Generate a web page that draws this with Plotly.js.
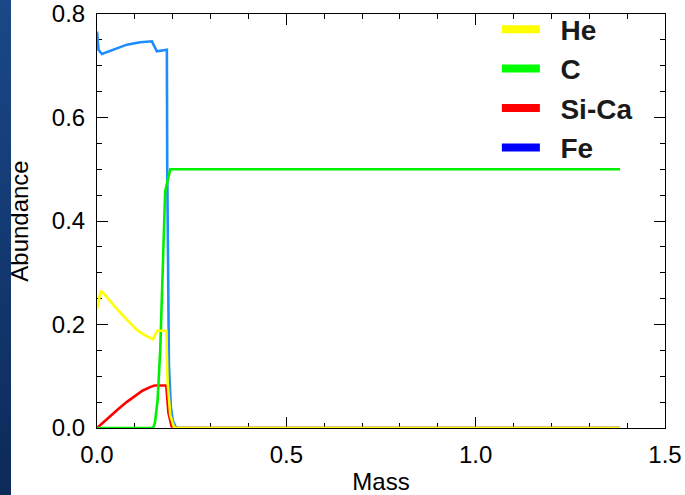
<!DOCTYPE html>
<html>
<head>
<meta charset="utf-8">
<script src="https://cdn.plot.ly/plotly-3.0.1.min.js"></script>
<style>
html,body{margin:0;padding:0;background:#fff;}
#wrap{position:relative;width:685px;height:495px;}
#chart{position:absolute;left:0;top:0;width:685px;height:495px;}
#strip{position:absolute;left:0;top:0;width:11px;height:495px;background:linear-gradient(#1b4888,#0c2a5a);z-index:5;}
</style>
</head>
<body>
<div id="wrap"><div id="chart"></div><div id="strip"></div></div>
<script>
// Data
const heMass = [0, 0.010, 0.020, 0.035, 0.050, 0.070, 0.090, 0.106, 0.125, 0.148, 0.159, 0.183, 0.1865, 0.1935, 0.203, 0.210, 1.381];
const heAbund = [0.230, 0.265, 0.258, 0.244, 0.232, 0.216, 0.200, 0.189, 0.180, 0.1715, 0.188, 0.188, 0.088, 0.025, 0.002, 0, 0];

const cMass = [0, 0.148, 0.153, 0.160, 0.167, 0.174, 0.180, 0.1935, 1.381];
const cAbund = [0, 0, 0.010, 0.054, 0.151, 0.300, 0.457, 0.500, 0.500];

const siMass = [0, 0.020, 0.040, 0.060, 0.080, 0.100, 0.120, 0.140, 0.152, 0.183, 0.1885, 0.197, 0.205, 1.381];
const siAbund = [0, 0.013, 0.027, 0.039, 0.051, 0.062, 0.072, 0.079, 0.082, 0.082, 0.030, 0.003, 0, 0];

const feMass = [0, 0.004, 0.013, 0.026, 0.053, 0.079, 0.114, 0.145, 0.158, 0.180, 0.1845, 0.1855, 0.187, 0.190, 0.195, 0.200, 0.207, 0.212, 1.381];
const feAbund = [0.766, 0.731, 0.7226, 0.726, 0.7344, 0.7408, 0.7453, 0.7472, 0.728, 0.731, 0.731, 0.50, 0.30, 0.12, 0.04, 0.015, 0.003, 0, 0];

const seriesNames = ['He', 'C', 'Si-Ca', 'Fe'];
const lineColors = ['#ffff00', '#00f000', '#ff0000', '#1e8cff'];
const legendColors = ['#ffff00', '#00ff00', '#ff0000', '#0000ff'];

const xTicks = [0, 0.5, 1.0, 1.5];
const xTickText = ['0.0', '0.5', '1.0', '1.5'];
const yTicks = [0, 0.2, 0.4, 0.6, 0.8];
const yTickText = ['0.0', '0.2', '0.4', '0.6', '0.8'];

const seriesX = [heMass, cMass, siMass, feMass];
const seriesY = [heAbund, cAbund, siAbund, feAbund];

const traces = [];
// draw order: Fe, Si-Ca, C, He (He on top)
for (let i = 3; i >= 0; i--) {
  traces.push({
    x: seriesX[i], y: seriesY[i], type: 'scatter', mode: 'lines',
    line: {color: lineColors[i], width: 2.6}, showlegend: false, name: seriesNames[i],
    hoverinfo: 'skip'
  });
}
// legend entries
for (let i = 0; i < 4; i++) {
  traces.push({
    x: [null], y: [null], type: 'scatter', mode: 'lines',
    line: {color: legendColors[i], width: 8}, name: '\u00a0\u00a0' + seriesNames[i], showlegend: true,
    legendgroup: 'g' + i
  });
}

const tickFont = {family: 'Liberation Sans, Arial, sans-serif', size: 24, color: '#000'};

const layout = {
  width: 685, height: 495,
  margin: {l: 97, r: 20, t: 14, b: 67, autoexpand: false},
  paper_bgcolor: '#fff', plot_bgcolor: '#fff',
  showlegend: true,
  legend: {
    x: 0.704, y: 1.023, xanchor: 'left', yanchor: 'top',
    bgcolor: 'rgba(0,0,0,0)', borderwidth: 0,
    font: {family: 'Liberation Sans, Arial, sans-serif', size: 28, color: '#1a1a1a', weight: 'bold'},
    tracegroupgap: 0, itemwidth: 38
  },
  xaxis: {
    range: [0, 1.5], tickvals: xTicks, ticktext: xTickText,
    ticks: 'inside', ticklen: 11, tickwidth: 1, tickcolor: '#000',
    showline: true, linecolor: '#000', linewidth: 1, mirror: 'ticks',
    showgrid: false, zeroline: false, layer: 'below traces',
    tickfont: tickFont, ticklabelstandoff: 5,
    minor: {dtick: 0.1, tick0: 0, ticks: 'inside', ticklen: 5, tickwidth: 1, tickcolor: '#000', showgrid: false},
    title: {text: 'Mass', font: tickFont, standoff: 10}
  },
  yaxis: {
    range: [0, 0.8], tickvals: yTicks, ticktext: yTickText,
    ticks: 'inside', ticklen: 11, tickwidth: 1, tickcolor: '#000',
    showline: true, linecolor: '#000', linewidth: 1, mirror: 'ticks',
    showgrid: false, zeroline: false, layer: 'below traces',
    tickfont: tickFont, ticklabelstandoff: 6,
    minor: {dtick: 0.05, tick0: 0, ticks: 'inside', ticklen: 5, tickwidth: 1, tickcolor: '#000', showgrid: false},
    title: {text: 'Abundance', font: tickFont, standoff: 16}
  }
};

Plotly.newPlot('chart', traces, layout, {staticPlot: true, displayModeBar: false});
</script>
</body>
</html>
